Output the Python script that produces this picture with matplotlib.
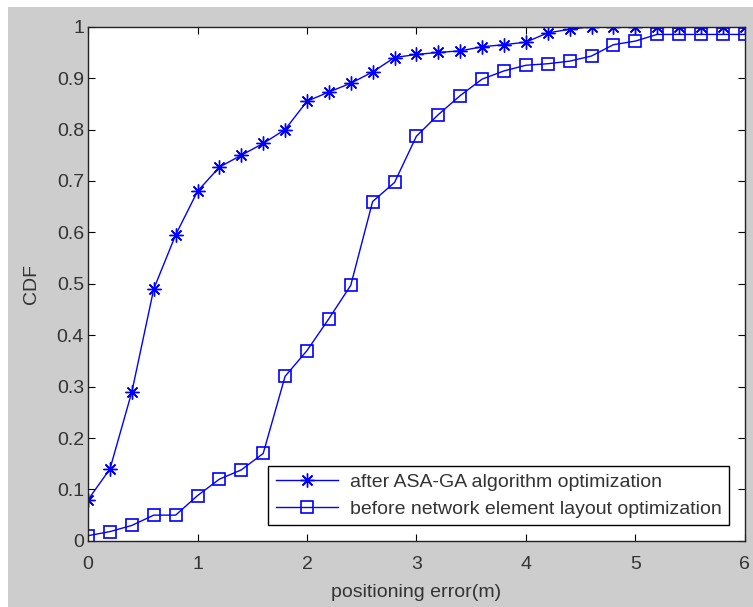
import numpy as np
import matplotlib.pyplot as plt
from matplotlib.patches import Rectangle

plt.rcParams['font.family'] = ['Liberation Sans', 'DejaVu Sans']

# Daten (positioning error in m, CDF)
x = np.round(np.arange(0, 6.01, 0.2), 1)
cdf_after = [0.08, 0.14, 0.29, 0.49, 0.595, 0.68, 0.727, 0.75, 0.773, 0.80,
             0.855, 0.873, 0.89, 0.912, 0.94, 0.946, 0.95, 0.953, 0.961, 0.965,
             0.97, 0.988, 0.995, 1.0, 1.0, 1.0, 1.0, 1.0, 1.0, 1.0, 1.0]
cdf_before = [0.01, 0.018, 0.03, 0.05, 0.05, 0.088, 0.12, 0.138, 0.17, 0.32,
              0.37, 0.432, 0.497, 0.66, 0.697, 0.787, 0.829, 0.866, 0.898, 0.914,
              0.925, 0.928, 0.933, 0.943, 0.965, 0.972, 0.985, 0.985, 0.985, 0.985, 0.985]
labels = ['after ASA-GA algorithm optimization',
          'before network element layout optimization']

txt = '#333333'
fig = plt.figure(figsize=(7.53, 6.07), dpi=100, facecolor='white')
# grauer Hintergrund wie in MATLAB, mit weissem Rand oben/links
fig.patches.append(Rectangle((8 / 753, 0), 1, 1 - 7 / 607, transform=fig.transFigure,
                             facecolor='#cdcdcd', edgecolor='none', zorder=-1))
ax = fig.add_axes([0.117, 0.109, 0.872, 0.847])

ax.plot(x, cdf_after, '-', marker=(8, 2, 0), color='#0000ff', lw=1, ms=10, mew=1,
        label=labels[0])
ax.plot(x, cdf_before, '-s', color='#0000ff', lw=1, ms=9, mew=1.2,
        mfc='none', label=labels[1])

ax.set_xlim(0, 6)
ax.set_ylim(0, 1)
ax.set_xticks(range(0, 7))
ax.set_yticks(np.round(np.arange(0, 1.01, 0.1), 1))
ax.set_yticklabels(['0', '0.1', '0.2', '0.3', '0.4', '0.5', '0.6', '0.7', '0.8', '0.9', '1'])
ax.tick_params(direction='in', top=True, right=True, length=5, labelsize=14,
               labelcolor=txt)
ax.tick_params(axis='x', pad=11)
ax.tick_params(axis='y', pad=3)
for s in ax.spines.values():
    s.set_linewidth(1)
    s.set_color('#222222')

ax.set_xlabel('positioning error(m)', fontsize=14, color=txt, labelpad=8)
ax.set_ylabel('CDF', fontsize=14, color=txt, labelpad=12)

leg = ax.legend(loc='lower right', fontsize=14, fancybox=False, edgecolor='black',
                framealpha=1, handlelength=3.2, handletextpad=0.6, borderaxespad=0.8,
                labelspacing=0.45, borderpad=0.4)
leg.get_frame().set_linewidth(1)
for t in leg.get_texts():
    t.set_color(txt)

fig.savefig('out.png', dpi=100, facecolor=fig.get_facecolor())
